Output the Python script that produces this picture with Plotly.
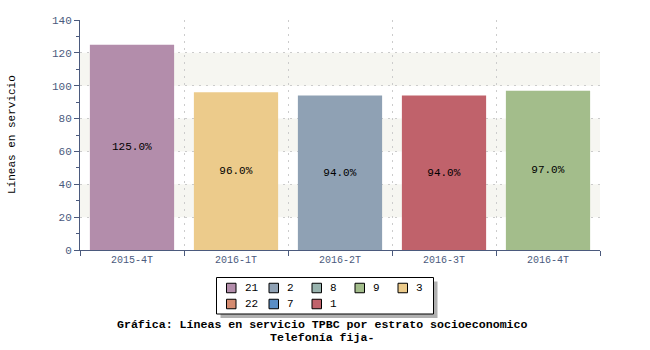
import plotly.graph_objects as go

# ---- data ----
categories = ["2015-4T", "2016-1T", "2016-2T", "2016-3T", "2016-4T"]
values = [125.0, 96.0, 94.0, 94.0, 97.0]
bar_series = ["21", "3", "2", "1", "9"]
legend_order = ["21", "2", "8", "9", "3", "22", "7", "1"]
series_colors = {
    "21": "#b38dab", "2": "#8fa1b4", "8": "#98b3ae", "9": "#a3bd8b",
    "3": "#eccb8b", "22": "#d58b70", "7": "#5a8ec6", "1": "#c0626b",
}
y_title = "Líneas en servicio"
title_lines = ["Gráfica: Líneas en servicio TPBC por estrato socioeconomico", "Telefonía fija-"]

MONO = "Liberation Mono, DejaVu Sans Mono, monospace"
AXIS_COL = "#4b5a7d"
GRID_COL = "#cccccc"
GRID_DASH = "2px,5px"

W, H = 650, 350
L, R, T, B = 80, 50, 20, 100
PW, PH = W - L - R, H - T - B

def px(x):
    return (x - L) / PW

def py(y):
    return (H - B - y) / PH

fig = go.Figure()
fig.add_trace(go.Bar(
    x=categories, y=values,
    marker=dict(color=[series_colors[s] for s in bar_series], line=dict(width=0)),
    text=[f"{v:.1f}%" for v in values],
    textposition="inside", insidetextanchor="middle",
    textfont=dict(family=MONO, size=11, color="#000000"),
    showlegend=False,
))

shapes = []
# alternating bands
for y0 in (20, 60, 100):
    shapes.append(dict(type="rect", xref="paper", yref="y", x0=0, x1=1, y0=y0, y1=y0 + 20,
                       fillcolor="#f6f6f1", line=dict(width=0), layer="below"))

# legend box with shadow
bx0, bx1, by0, by1 = 216.5, 433.5, 277.5, 314
shapes.append(dict(type="rect", xref="paper", yref="paper", x0=px(bx0 + 4), x1=px(bx1 + 4),
                   y0=py(by1 + 4), y1=py(by0 + 4), fillcolor="#b0b0b0", line=dict(width=0)))
shapes.append(dict(type="rect", xref="paper", yref="paper", x0=px(bx0), x1=px(bx1),
                   y0=py(by1), y1=py(by0), fillcolor="#ffffff", line=dict(color="#000000", width=1)))

annotations = []
col_x = [226.5, 269, 312, 355, 398]
row_y = [288, 304]
for i, name in enumerate(legend_order):
    r, c = divmod(i, 5)
    cx, cy = col_x[c], row_y[r]
    shapes.append(dict(type="rect", xref="paper", yref="paper", x0=px(cx), x1=px(cx + 9.5),
                       y0=py(cy + 4.75), y1=py(cy - 4.75), fillcolor=series_colors[name],
                       line=dict(color="#000000", width=1)))
    annotations.append(dict(text=name, xref="paper", yref="paper", x=px(cx + 16), y=py(cy),
                            xanchor="left", yanchor="middle", showarrow=False,
                            font=dict(family=MONO, size=11, color="#000000")))

annotations.append(dict(text="<b>" + title_lines[0] + "</b>", xref="paper", yref="paper",
                        x=px(322), y=py(324.5), xanchor="center", yanchor="middle", showarrow=False,
                        font=dict(family=MONO, size=11.6, color="#000000")))
annotations.append(dict(text="<b>" + title_lines[1] + "</b>", xref="paper", yref="paper",
                        x=px(322), y=py(337.5), xanchor="center", yanchor="middle", showarrow=False,
                        font=dict(family=MONO, size=11.6, color="#000000")))
annotations.append(dict(text=y_title, xref="paper", yref="paper", x=px(12), y=py(135),
                        xanchor="center", yanchor="middle", textangle=-90, showarrow=False,
                        font=dict(family=MONO, size=11, color="#000000")))

fig.update_layout(
    width=W, height=H,
    margin=dict(l=L, r=R, t=T, b=B),
    paper_bgcolor="#ffffff", plot_bgcolor="#ffffff",
    bargap=0.19,
    shapes=shapes, annotations=annotations,
    showlegend=False,
    xaxis=dict(
        type="category", tickson="boundaries", ticks="outside", ticklen=5,
        tickcolor=AXIS_COL, showline=True, linecolor=AXIS_COL, linewidth=1,
        showgrid=True, gridcolor=GRID_COL, griddash=GRID_DASH, gridwidth=1,
        tickfont=dict(family=MONO, size=10, color=AXIS_COL),
        range=[-0.5, 4.5], zeroline=False,
    ),
    yaxis=dict(
        range=[0, 140], dtick=20, tick0=0, ticks="outside", ticklen=5, tickcolor=AXIS_COL,
        showline=True, linecolor=AXIS_COL, linewidth=1,
        showgrid=True, gridcolor=GRID_COL, griddash=GRID_DASH, gridwidth=1,
        tickfont=dict(family=MONO, size=11, color=AXIS_COL),
        minor=dict(dtick=10, ticks="outside", ticklen=3, tickcolor=AXIS_COL, showgrid=False),
        zeroline=False,
    ),
)

fig.write_html("out.html")
